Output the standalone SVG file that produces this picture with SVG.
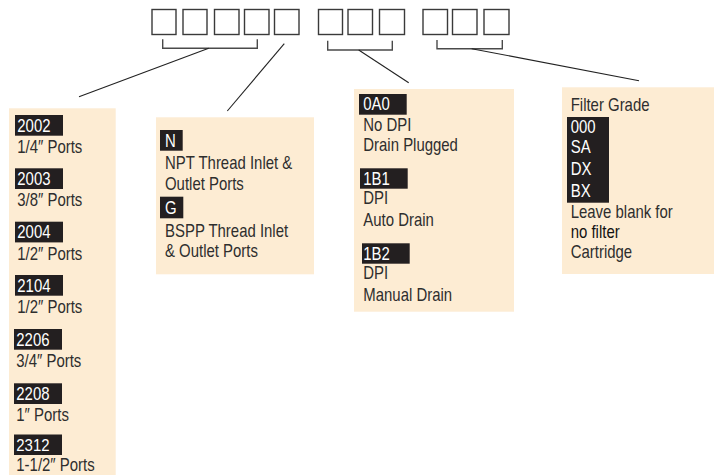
<svg xmlns="http://www.w3.org/2000/svg" width="714" height="475" viewBox="0 0 714 475">
<style>
.bg{fill:#ffffff}
.box{fill:#ffffff;stroke:#3a3a3a;stroke-width:1.4}
.br{fill:none;stroke:#4a4a4a;stroke-width:1.4}
.ln{fill:none;stroke:#222;stroke-width:1.1}
.panel{fill:#fdecd3}
.bar{fill:#231f20}
text{font-family:"Liberation Sans",Arial,sans-serif;font-size:18px;fill:#2e2e2e}
text.w{fill:#ffffff}
text.k{fill:#111111}
text.s{font-size:17px}
</style>
<rect class="bg" x="0" y="0" width="714" height="475"/>
<g id="code-boxes">
<rect class="box" x="152" y="9.5" width="24" height="25"/>
<rect class="box" x="183" y="9.5" width="24" height="25"/>
<rect class="box" x="214.5" y="9.5" width="24.5" height="25"/>
<rect class="box" x="244.5" y="9.5" width="24.5" height="25"/>
<rect class="box" x="274.5" y="9.5" width="24.5" height="25"/>
<rect class="box" x="318.5" y="9.5" width="24" height="25"/>
<rect class="box" x="348" y="9.5" width="24.5" height="25"/>
<rect class="box" x="379.5" y="9.5" width="25" height="25"/>
<rect class="box" x="423" y="9.5" width="24.5" height="25"/>
<rect class="box" x="452.5" y="9.5" width="24.5" height="25"/>
<rect class="box" x="484" y="9.5" width="25" height="25"/>
</g>
<g id="connectors">
<path class="br" d="M162.7,39.3 V48.3 H257.3 V39.3"/>
<path class="br" d="M327.7,40.7 V50 H392.3 V40.7"/>
<path class="br" d="M437,40 V48.7 H502.3 V40"/>
<line class="ln" x1="208.7" y1="48.3" x2="79" y2="96.7"/>
<line class="ln" x1="284.3" y1="43.7" x2="227.3" y2="111"/>
<line class="ln" x1="358.7" y1="50" x2="408.7" y2="82.7"/>
<line class="ln" x1="471.7" y1="48.7" x2="639" y2="80.7"/>
</g>
<g id="port-size">
<rect class="panel" x="9" y="108.3" width="106.7" height="366.7"/>
<rect class="bar" x="15" y="115" width="48" height="20.7"/>
<text class="w" transform="translate(17.3,131.5) scale(0.83,1)">2002</text>
<text transform="translate(17.3,152.5) scale(0.83,1)">1/4″ Ports</text>
<rect class="bar" x="15" y="168.3" width="48" height="20.7"/>
<text class="w" transform="translate(17.3,184.8) scale(0.83,1)">2003</text>
<text transform="translate(17.3,206) scale(0.83,1)">3/8″ Ports</text>
<rect class="bar" x="15" y="221.7" width="48" height="20.7"/>
<text class="w" transform="translate(17.3,238.2) scale(0.83,1)">2004</text>
<text transform="translate(17.3,259.5) scale(0.83,1)">1/2″ Ports</text>
<rect class="bar" x="15" y="275" width="48" height="20.7"/>
<text class="w" transform="translate(17.3,291.5) scale(0.83,1)">2104</text>
<text transform="translate(17.3,313) scale(0.83,1)">1/2″ Ports</text>
<rect class="bar" x="14" y="329" width="48" height="20.7"/>
<text class="w" transform="translate(16.3,345.5) scale(0.83,1)">2206</text>
<text transform="translate(16.3,367) scale(0.83,1)">3/4″ Ports</text>
<rect class="bar" x="14" y="383.3" width="48" height="20.7"/>
<text class="w" transform="translate(16.3,399.8) scale(0.83,1)">2208</text>
<text transform="translate(16.3,421.2) scale(0.83,1)">1″ Ports</text>
<rect class="bar" x="14" y="434.5" width="48" height="20.5"/>
<text class="w s" transform="translate(16.3,450.8) scale(0.88,1)">2312</text>
<text transform="translate(16.3,471) scale(0.83,1)">1-1/2″ Ports</text>
</g>
<g id="thread">
<rect class="panel" x="156" y="117.3" width="158" height="157"/>
<rect class="bar" x="160" y="130" width="22.7" height="20.7"/>
<text class="w" transform="translate(165,146.5) scale(0.83,1)">N</text>
<text transform="translate(165,169) scale(0.83,1)">NPT Thread Inlet &amp;</text>
<text transform="translate(165,190) scale(0.83,1)">Outlet Ports</text>
<rect class="bar" x="160" y="196.7" width="23.3" height="21.6"/>
<text class="w" transform="translate(165,213.5) scale(0.83,1)">G</text>
<text transform="translate(165,236.7) scale(0.83,1)">BSPP Thread Inlet</text>
<text transform="translate(165,257.3) scale(0.83,1)">&amp; Outlet Ports</text>
</g>
<g id="options">
<rect class="panel" x="354" y="89" width="160" height="222.7"/>
<rect class="bar" x="359" y="94" width="47.7" height="20.7"/>
<text class="w" transform="translate(363.3,110.3) scale(0.83,1)">0A0</text>
<text transform="translate(363.3,130.7) scale(0.83,1)">No DPI</text>
<text transform="translate(363.3,151) scale(0.83,1)">Drain Plugged</text>
<rect class="bar" x="360" y="168.3" width="47.7" height="20.4"/>
<text class="w" transform="translate(363.3,184.6) scale(0.83,1)">1B1</text>
<text transform="translate(363.3,204.3) scale(0.83,1)">DPI</text>
<text transform="translate(363.3,226) scale(0.83,1)">Auto Drain</text>
<rect class="bar" x="362" y="243.3" width="47.7" height="20.4"/>
<text class="w" transform="translate(363.3,259.6) scale(0.83,1)">1B2</text>
<text transform="translate(363.3,279.3) scale(0.83,1)">DPI</text>
<text transform="translate(363.3,301) scale(0.83,1)">Manual Drain</text>
</g>
<g id="filter">
<rect class="panel" x="562" y="87.3" width="152" height="186.7"/>
<text transform="translate(570.7,111) scale(0.83,1)">Filter Grade</text>
<rect class="bar" x="567" y="117" width="42" height="85.7"/>
<text class="w" transform="translate(570.7,132.7) scale(0.83,1)">000</text>
<text class="w" transform="translate(570.7,153.3) scale(0.83,1)">SA</text>
<text class="w" transform="translate(570.7,175) scale(0.83,1)">DX</text>
<text class="w" transform="translate(570.7,196.7) scale(0.83,1)">BX</text>
<text transform="translate(570.7,217.7) scale(0.83,1)">Leave blank for</text>
<text class="k" transform="translate(570.7,238.3) scale(0.83,1)">no filter</text>
<text transform="translate(570.7,258.3) scale(0.83,1)">Cartridge</text>
</g>
</svg>
